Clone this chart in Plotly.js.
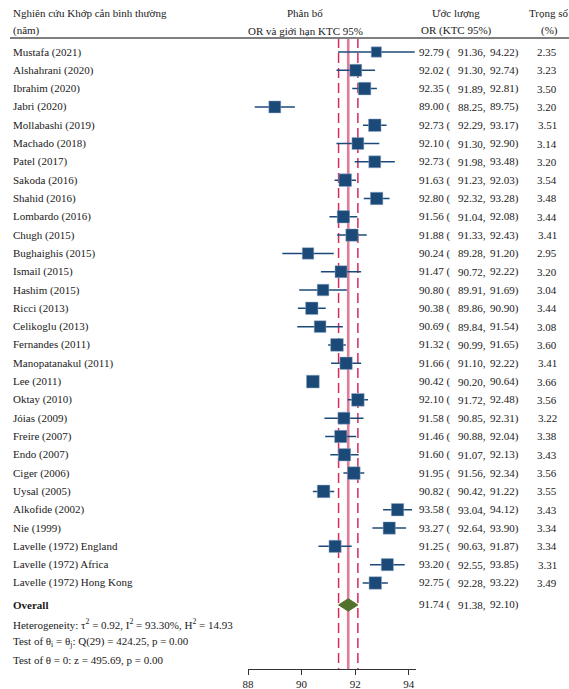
<!DOCTYPE html>
<html>
<head>
<meta charset="utf-8">
<script src="https://cdn.plot.ly/plotly-3.0.1.min.js"></script>
<style>html,body{margin:0;padding:0;background:#fff;}#chart{width:569px;height:689px;}</style>
</head>
<body>
<div id="chart"></div>
<script>
const studies = ["Mustafa (2021)","Alshahrani (2020)","Ibrahim (2020)","Jabri (2020)","Mollabashi (2019)","Machado (2018)","Patel (2017)","Sakoda (2016)","Shahid (2016)","Lombardo (2016)","Chugh (2015)","Bughaighis (2015)","Ismail (2015)","Hashim (2015)","Ricci (2013)","Celikoglu (2013)","Fernandes (2011)","Manopatanakul (2011)","Lee (2011)","Oktay (2010)","Jóias (2009)","Freire (2007)","Endo (2007)","Ciger (2006)","Uysal (2005)","Alkofide (2002)","Nie (1999)","Lavelle (1972) England","Lavelle (1972) Africa","Lavelle (1972) Hong Kong"];
const orVal = [92.79,92.02,92.35,89.00,92.73,92.10,92.73,91.63,92.80,91.56,91.88,90.24,91.47,90.80,90.38,90.69,91.32,91.66,90.42,92.10,91.58,91.46,91.60,91.95,90.82,93.58,93.27,91.25,93.20,92.75];
const ciLow = [91.36,91.30,91.89,88.25,92.29,91.30,91.98,91.23,92.32,91.04,91.33,89.28,90.72,89.91,89.86,89.84,90.99,91.10,90.20,91.72,90.85,90.88,91.07,91.56,90.42,93.04,92.64,90.63,92.55,92.28];
const ciHigh = [94.22,92.74,92.81,89.75,93.17,92.90,93.48,92.03,93.28,92.08,92.43,91.20,92.22,91.69,90.90,91.54,91.65,92.22,90.64,92.48,92.31,92.04,92.13,92.34,91.22,94.12,93.90,91.87,93.85,93.22];
const weights = [2.35,3.23,3.50,3.20,3.51,3.14,3.20,3.54,3.48,3.44,3.41,2.95,3.20,3.04,3.44,3.08,3.60,3.41,3.66,3.56,3.22,3.38,3.43,3.56,3.55,3.43,3.34,3.34,3.31,3.49];
const overall = {or: 91.74, low: 91.38, high: 92.10};
const statsLines = [
  "Heterogeneity: τ<sup>2</sup> = 0.92, I<sup>2</sup> = 93.30%, H<sup>2</sup> = 14.93",
  "Test of θ<sub>i</sub> = θ<sub>j</sub>: Q(29) = 424.25, p = 0.00",
  "Test of θ = 0: z = 495.69, p = 0.00"
];
const headers = {
  study: ["Nghiên cứu Khớp cắn bình thường", "(năm)"],
  plot: ["Phân bố", "OR và giới hạn KTC 95%"],
  est: ["Ước lượng", "OR (KTC 95%)"],
  weight: ["Trọng số", "(%)"]
};
const xTicks = [88, 90, 92, 94];

const FONT = '"Liberation Serif", "Times New Roman", serif';
const TXT = '#1a1a1a';
const BLUE = '#1c4a78';
const fmt = v => v.toFixed(2);

const rows = studies.map((_, i) => i + 1);
const overallY = studies.length + 1.2;
const statsY = statsLines.map((_, i) => overallY + 1.02 + i * 0.99);
const topY = 0.235;
const bottomY = 34.70;

const traces = [];
traces.push({x:[overall.or, overall.or], y:[topY, bottomY], mode:'lines', line:{color:'#e07c97', width:2.6}, hoverinfo:'skip'});
traces.push({x:[overall.low, overall.low], y:[topY, bottomY], mode:'lines', line:{color:'#d42a5c', width:1.5, dash:'10px,5px'}, hoverinfo:'skip'});
traces.push({x:[overall.high, overall.high], y:[topY, bottomY], mode:'lines', line:{color:'#d42a5c', width:1.5, dash:'10px,5px'}, hoverinfo:'skip'});
const cx = [], cy = [];
rows.forEach((r, i) => { cx.push(ciLow[i], ciHigh[i], null); cy.push(r, r, null); });
traces.push({x:cx, y:cy, mode:'lines', line:{color:BLUE, width:1.5}, hoverinfo:'skip'});
traces.push({x:orVal, y:rows, mode:'markers', marker:{symbol:'square', color:BLUE, opacity:1, size:weights.map(w => 6.7*Math.sqrt(w)), line:{color:'rgba(150,175,205,0.8)', width:0.6}}, hoverinfo:'skip'});
const dh = 0.34;
traces.push({x:[overall.low, overall.or, overall.high, overall.or, overall.low], y:[overallY, overallY-dh, overallY, overallY+dh, overallY], mode:'lines', fill:'toself', fillcolor:'#52712c', line:{color:'#52712c', width:1}, hoverinfo:'skip'});

const ann = [];
const A = (text, xp, y, anchor) => ann.push({text, x:xp/569, xref:'paper', y, yref:'y', xanchor:anchor, yanchor:'middle', showarrow:false, font:{family:FONT, size:11, color:TXT}});
const est = (o, l, h, y) => {
  A(fmt(o) + ' (', 417, y, 'left');
  A(fmt(l) + ',', 455.5, y, 'left');
  A(fmt(h) + ')', 488, y, 'left');
};
const h1 = -1.13, h2 = -0.15;
A(headers.study[0], 11, h1, 'left'); A(headers.study[1], 11, h2, 'left');
A(headers.plot[0], 305, h1, 'center'); A(headers.plot[1], 305, h2, 'center');
A(headers.est[0], 456, h1, 'center'); A(headers.est[1], 456, h2, 'center');
A(headers.weight[0], 549, h1, 'center'); A(headers.weight[1], 549, h2, 'center');
rows.forEach((r, i) => {
  A(studies[i], 11, r, 'left');
  est(orVal[i], ciLow[i], ciHigh[i], r);
  A(fmt(weights[i]), 547, r, 'center');
});
A('<b>Overall</b>', 11, overallY, 'left');
est(overall.or, overall.low, overall.high, overallY);
statsLines.forEach((s, i) => A(s, 11, statsY[i], 'left'));

const layout = {
  width: 569, height: 689,
  margin: {l:0, r:0, t:0, b:20},
  paper_bgcolor: '#fff', plot_bgcolor: '#fff',
  showlegend: false,
  font: {family: FONT, size: 11, color: TXT},
  xaxis: {domain:[248/569, 415.5/569], range:[88, 94.25], tickvals:xTicks, ticktext:xTicks.map(String), ticks:'outside', ticklen:5, tickwidth:1, tickcolor:'#333', showline:true, linecolor:'#333', linewidth:1, showgrid:false, zeroline:false, tickfont:{family:FONT, size:11, color:TXT}, fixedrange:true},
  yaxis: {domain:[0,1], range:[34.70, -1.84], visible:false, showgrid:false, zeroline:false, fixedrange:true},
  shapes: [{type:'line', xref:'paper', yref:'y', x0:10/569, x1:1, y0:0.235, y1:0.235, line:{color:'#7f7f7f', width:2}}],
  annotations: ann
};
Plotly.newPlot('chart', traces, layout, {staticPlot:true, displayModeBar:false});
</script>
</body>
</html>
